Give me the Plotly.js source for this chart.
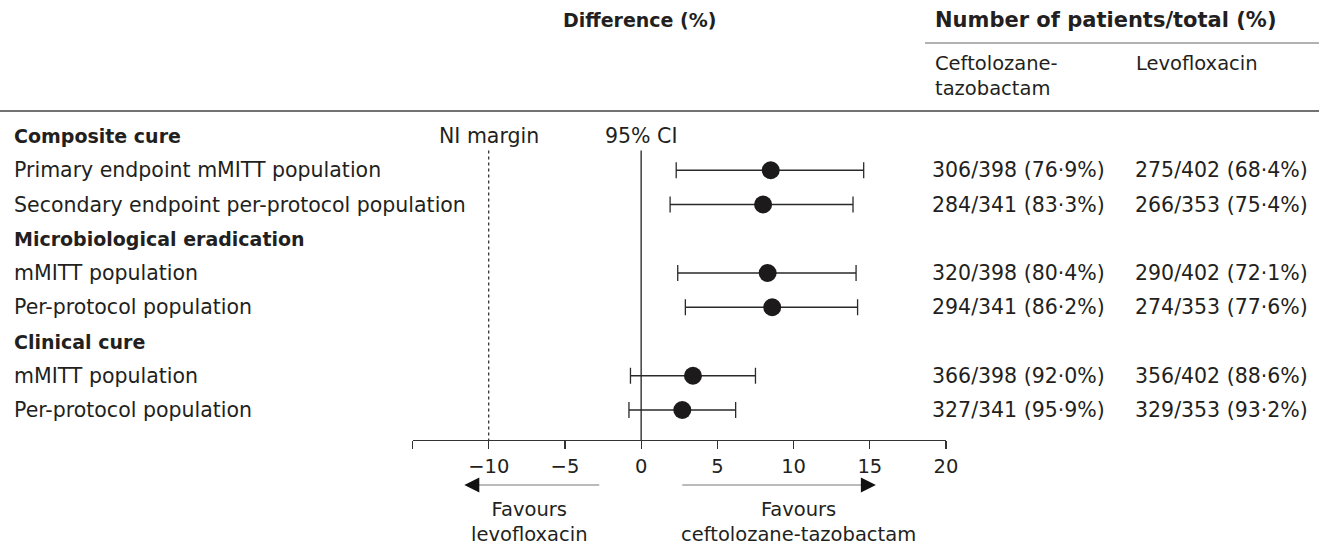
<!DOCTYPE html>
<html><head><meta charset="utf-8">
<script src="https://cdn.plot.ly/plotly-3.0.1.min.js"></script>
<style>html,body{margin:0;padding:0;background:#fff}#chart{width:1319px;height:547px}</style>
</head><body><div id="chart"></div>
<script>
// ---- data ----
const rowLabels = ["Composite cure","Primary endpoint mMITT population","Secondary endpoint per-protocol population",
  "Microbiological eradication","mMITT population","Per-protocol population",
  "Clinical cure","mMITT population","Per-protocol population"];
const isHeader = [true,false,false,true,false,false,true,false,false];
const diff  = [null, 8.5, 8.0, null, 8.3, 8.6, null, 3.4, 2.7];
const ciLow = [null, 2.3, 1.9, null, 2.4, 2.9, null, -0.7, -0.8];
const ciHigh= [null, 14.6, 13.9, null, 14.1, 14.2, null, 7.5, 6.2];
const cefN  = [null, 306, 284, null, 320, 294, null, 366, 327];
const cefTot= [null, 398, 341, null, 398, 341, null, 398, 341];
const cefPct= [null, "76.9", "83.3", null, "80.4", "86.2", null, "92.0", "95.9"];
const levN  = [null, 275, 266, null, 290, 274, null, 356, 329];
const levTot= [null, 402, 353, null, 402, 353, null, 402, 353];
const levPct= [null, "68.4", "75.4", null, "72.1", "77.6", null, "88.6", "93.2"];
const tickVals = [-15, -10, -5, 0, 5, 10, 15, 20];
const tickText = ["", "\u221210", "\u22125", "0", "5", "10", "15", "20"];
const niMargin = -10;

// ---- layout helpers ----
const W = 1319, H = 547;
const px = x => x / W;
const py = y => 1 - y / H;
const TXT = "#231f20";
const FONT = "DejaVu Sans, sans-serif";
const FS = 20.5;   // regular text
const FB = 19;     // bold row headers
const yIdx = rowLabels.map((_, i) => i);
const dot = s => s.replace(".", "\u00b7");

const pts = yIdx.filter(i => diff[i] !== null);
const trace = {
  type: "scatter", mode: "markers",
  x: pts.map(i => diff[i]), y: pts.map(i => i),
  marker: {size: 18, color: "#1c1a1a"},
  error_x: {type: "data", symmetric: false,
    array: pts.map(i => ciHigh[i] - diff[i]),
    arrayminus: pts.map(i => diff[i] - ciLow[i]),
    color: "#2a2a2a", thickness: 1.3, width: 8},
  hoverinfo: "skip", showlegend: false, cliponaxis: false
};

const ann = [];
yIdx.forEach(i => {
  ann.push({xref: "paper", yref: "y", x: px(12), y: i, xanchor: "left", yanchor: "middle",
    text: isHeader[i] ? "<b>" + rowLabels[i] + "</b>" : rowLabels[i], showarrow: false,
    font: {family: FONT, size: isHeader[i] ? FB : FS, color: TXT}});
  if (!isHeader[i]) {
    ann.push({xref: "paper", yref: "y", x: px(930), y: i, xanchor: "left", yanchor: "middle",
      text: cefN[i] + "/" + cefTot[i] + " (" + dot(cefPct[i]) + "%)", showarrow: false,
      font: {family: FONT, size: FS, color: TXT}});
    ann.push({xref: "paper", yref: "y", x: px(1133), y: i, xanchor: "left", yanchor: "middle",
      text: levN[i] + "/" + levTot[i] + " (" + dot(levPct[i]) + "%)", showarrow: false,
      font: {family: FONT, size: FS, color: TXT}});
  }
});
const hdr = (t, x, y, anchor, size) => ann.push({xref: "paper", yref: "paper", x: px(x), y: py(y),
  xanchor: anchor, yanchor: "middle", text: t, showarrow: false, align: anchor === "center" ? "center" : "left",
  font: {family: FONT, size: size, color: TXT}});
hdr("<b>Difference (%)</b>", 640, 20, "center", FB);
hdr("<b>Number of patients/total (%)</b>", 933, 20, "left", 21);
hdr("Ceftolozane-<br>tazobactam", 933, 76, "left", 19.5);
hdr("Levofloxacin", 1134, 64, "left", 19.5);
hdr("Favours<br>levofloxacin", 529, 522, "center", 19.5);
hdr("Favours<br>ceftolozane-tazobactam", 798, 522, "center", 19.5);
ann.push({xref: "x", yref: "y", x: niMargin, y: 0, text: "NI margin", showarrow: false,
  xanchor: "center", yanchor: "middle", font: {family: FONT, size: FS, color: TXT}});
ann.push({xref: "x", yref: "y", x: 0, y: 0, text: "95% CI", showarrow: false,
  xanchor: "center", yanchor: "middle", font: {family: FONT, size: FS, color: TXT}});
// arrow heads
ann.push({xref: "x", yref: "paper", x: -11.6, y: py(485), ax: 12, ay: 0, text: "", showarrow: true,
  arrowhead: 2, arrowsize: 3, arrowwidth: 1, arrowcolor: "#111"});
ann.push({xref: "x", yref: "paper", x: 15.4, y: py(485), ax: -12, ay: 0, text: "", showarrow: true,
  arrowhead: 2, arrowsize: 3, arrowwidth: 1, arrowcolor: "#111"});

const yBottom = (440 - 136) / 34.25;
const yTop = (119 - 136) / 34.25;

const layout = {
  width: W, height: H, margin: {l: 0, r: 0, t: 0, b: 0},
  paper_bgcolor: "#fff", plot_bgcolor: "rgba(0,0,0,0)",
  xaxis: {domain: [px(412.5), px(946)], range: [-15, 20], tickmode: "array",
    tickvals: tickVals, ticktext: tickText, ticks: "outside", ticklen: 8, tickwidth: 1.2,
    tickcolor: "#333", showline: true, linecolor: "#333", linewidth: 1.2, showgrid: false,
    zeroline: false, fixedrange: true, tickfont: {family: FONT, size: 19.5, color: TXT}},
  yaxis: {domain: [py(440), py(119)], range: [yBottom, yTop], visible: false, showgrid: false,
    zeroline: false, fixedrange: true},
  shapes: [
    {type: "line", xref: "paper", yref: "paper", x0: px(925), x1: 1, y0: py(43), y1: py(43),
      line: {color: "#666", width: 1.2}},
    {type: "line", xref: "paper", yref: "paper", x0: 0, x1: 1, y0: py(111), y1: py(111),
      line: {color: "#444", width: 1.4}},
    {type: "line", xref: "x", yref: "y", x0: 0, x1: 0, y0: 0.42, y1: yBottom,
      line: {color: "#222", width: 1.3}},
    {type: "line", xref: "x", yref: "y", x0: niMargin, x1: niMargin, y0: 0.42, y1: yBottom,
      line: {color: "#222", width: 1.2, dash: "3px,3px"}},
    {type: "line", xref: "x", yref: "paper", x0: -2.75, x1: -11.0, y0: py(485), y1: py(485),
      line: {color: "#777", width: 1}},
    {type: "line", xref: "x", yref: "paper", x0: 2.7, x1: 14.8, y0: py(485), y1: py(485),
      line: {color: "#777", width: 1}}
  ],
  annotations: ann,
  showlegend: false
};
Plotly.newPlot("chart", [trace], layout, {displayModeBar: false, staticPlot: true});
</script></body></html>
